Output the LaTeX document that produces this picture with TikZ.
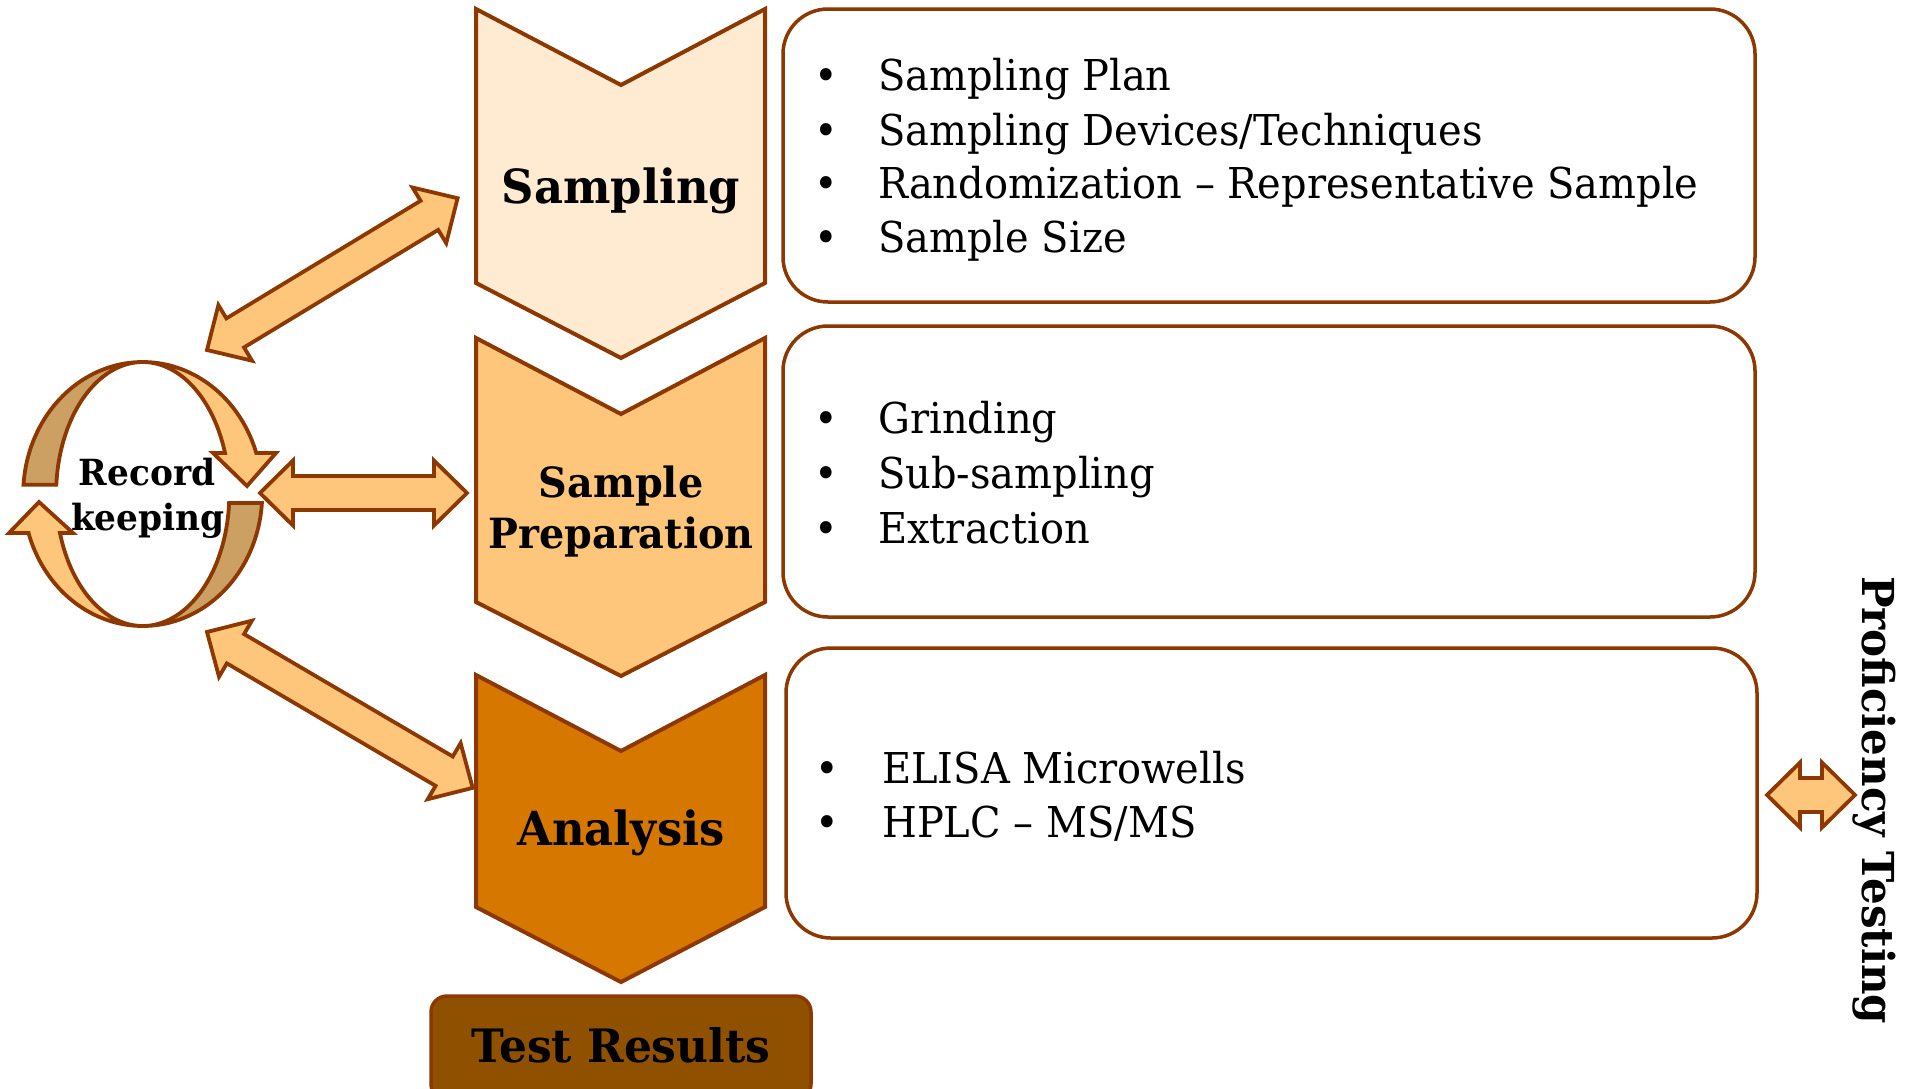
\documentclass[tikz,border=0pt]{standalone}
\usepackage{fontspec}
\setmainfont{DejaVu Serif}[FakeStretch=0.94]
\newfontfamily\headfont{DejaVu Serif}[FakeStretch=0.955]
\usetikzlibrary{calc}
\definecolor{edgec}{RGB}{140,56,0}
\definecolor{chA}{RGB}{254,235,210}
\definecolor{chB}{RGB}{253,198,123}
\definecolor{chC}{RGB}{214,120,0}
\definecolor{trfill}{RGB}{143,80,0}
\definecolor{banddark}{RGB}{204,160,98}
\definecolor{arrowfill}{RGB}{253,198,123}
\tikzset{
  chev/.style={draw=edgec, line width=4pt, line join=miter},
  bullbox/.style={draw=edgec, line width=3.5pt, rounded corners=45pt, fill=white},
  blockarrow/.style={draw=edgec, line width=3.8pt, fill=arrowfill, line join=miter},
  bandlight/.style={draw=edgec, line width=3.8pt, fill=arrowfill, line join=miter},
  banddk/.style={draw=edgec, line width=3.8pt, fill=banddark, line join=miter},
  bodytext/.style={font=\fontsize{42.5}{50}\selectfont, inner sep=0pt, anchor=base west},
  bulletmark/.style={font=\fontsize{42.5}{50}\selectfont, inner sep=0pt, anchor=base},
  headlabel/.style={font=\headfont\bfseries\fontsize{47}{56}\selectfont, inner sep=0pt, anchor=base},
  preplabel/.style={font=\headfont\bfseries\fontsize{41.6}{50}\selectfont, inner sep=0pt, anchor=base},
  reclabel/.style={font=\headfont\bfseries\fontsize{36}{42}\selectfont, inner sep=0pt, anchor=base},
}
\newcommand{\dblarrow}[3]{%
  \begin{scope}[shift={(#1)}, rotate=#2]
    \filldraw[blockarrow] (0,0) -- (33,32.5) -- (33,17) -- ({#3-33},17) -- ({#3-33},32.5) -- (#3,0)
      -- ({#3-33},-32.5) -- ({#3-33},-17) -- (33,-17) -- (33,-32.5) -- cycle;
  \end{scope}}
\begin{document}
\begin{tikzpicture}[x=1pt, y=-1pt]
\useasboundingbox[fill=white] (0,0) rectangle (1905,1088);

% chevrons
\filldraw[chev, fill=chA] (476,9) -- (621,85) -- (765,9) -- (765,283) -- (621,358) -- (476,283) -- cycle;
\filldraw[chev, fill=chB] (476,338) -- (621,414) -- (765,338) -- (765,602) -- (621,676) -- (476,602) -- cycle;
\filldraw[chev, fill=chC] (476,675) -- (621,751) -- (765,675) -- (765,907) -- (621,982) -- (476,907) -- cycle;

\node[headlabel] (samp) at (621,203) {Sampling};
\node[preplabel] (prep1) at (621,497) {Sample};
\node[preplabel] (prep2) at (621,548) {Preparation};
\node[headlabel] (anal) at (621,845) {Analysis};

% bullet boxes
\draw[bullbox] (783,9) rectangle (1755,302);
\draw[bullbox] (783,326) rectangle (1755,617);
\draw[bullbox] (786,648) rectangle (1757,938);

\node[bulletmark] (d1) at (826,90) {•};
\node[bulletmark] (d2) at (826,145) {•};
\node[bulletmark] (d3) at (826,198) {•};
\node[bulletmark] (d4) at (826,252) {•};
\node[bodytext] (t1) at (878,90) {Sampling Plan};
\node[bodytext] (t2) at (878,145) {Sampling Devices/Techniques};
\node[bodytext] (t3) at (878,198) {Randomization – Representative Sample};
\node[bodytext] (t4) at (878,252) {Sample Size};

\node[bulletmark] (d5) at (826,433) {•};
\node[bulletmark] (d6) at (826,488) {•};
\node[bulletmark] (d7) at (826,543) {•};
\node[bodytext] (t5) at (878,433) {Grinding};
\node[bodytext] (t6) at (878,488) {Sub-sampling};
\node[bodytext] (t7) at (878,543) {Extraction};

\node[bulletmark] (d8) at (827,783) {•};
\node[bulletmark] (d9) at (827,837) {•};
\node[bodytext] (t8) at (882,783) {ELISA Microwells};
\node[bodytext] (t9) at (882,837) {HPLC – MS/MS};

% test results
\filldraw[draw=edgec, line width=3.5pt, fill=trfill, rounded corners=16pt] (431,996) rectangle (811,1100);
\node[headlabel, font=\headfont\bfseries\fontsize{46}{54}\selectfont] (tr) at (621,1062) {Test Results};

% block arrows
\coordinate (dA) at (207,350);
\coordinate (hA) at (260,493);
\coordinate (dB) at (207,632);
\coordinate (pA) at (1767,795);
\dblarrow{dA}{31.2}{293}
\dblarrow{hA}{0}{207}
\dblarrow{dB}{-30.4}{308}
\dblarrow{pA}{0}{88}

% record keeping cycle
\filldraw[banddk] plot[domain=90:176, samples=40] ({142.7+119.5*cos(\x)},{494-132*sin(\x)})
  -- plot[domain=176:90, samples=40] ({142.7+86.6*cos(\x)},{494-132*sin(\x)}) -- cycle;
\filldraw[banddk] plot[domain=-3.9:-90, samples=40] ({142.7+119.5*cos(\x)},{494-132*sin(\x)})
  -- plot[domain=-90:-3.9, samples=40] ({142.7+86.6*cos(\x)},{494-132*sin(\x)}) -- cycle;
\filldraw[bandlight] plot[domain=90:18.1, samples=40] ({142.7+119.5*cos(\x)},{494-132*sin(\x)})
  -- (276,453) -- (247,486) -- (213,453)
  -- plot[domain=18.1:90, samples=40] ({142.7+86.6*cos(\x)},{494-132*sin(\x)}) -- cycle;
\filldraw[bandlight] plot[domain=270:197.2, samples=40] ({142.7+119.5*cos(\x)},{494-132*sin(\x)})
  -- (9,533) -- (39,502) -- (73,533)
  -- plot[domain=197.2:270, samples=40] ({142.7+86.6*cos(\x)},{494-132*sin(\x)}) -- cycle;

\node[reclabel] (rec1) at (147,485) {Record};
\node[reclabel] (rec2) at (148,530) {keeping};

% proficiency testing
\node[headlabel, font=\headfont\bfseries\fontsize{44}{52}\selectfont, rotate=-90] (prof) at (1862,800) {Proficiency Testing};
\end{tikzpicture}
\end{document}
